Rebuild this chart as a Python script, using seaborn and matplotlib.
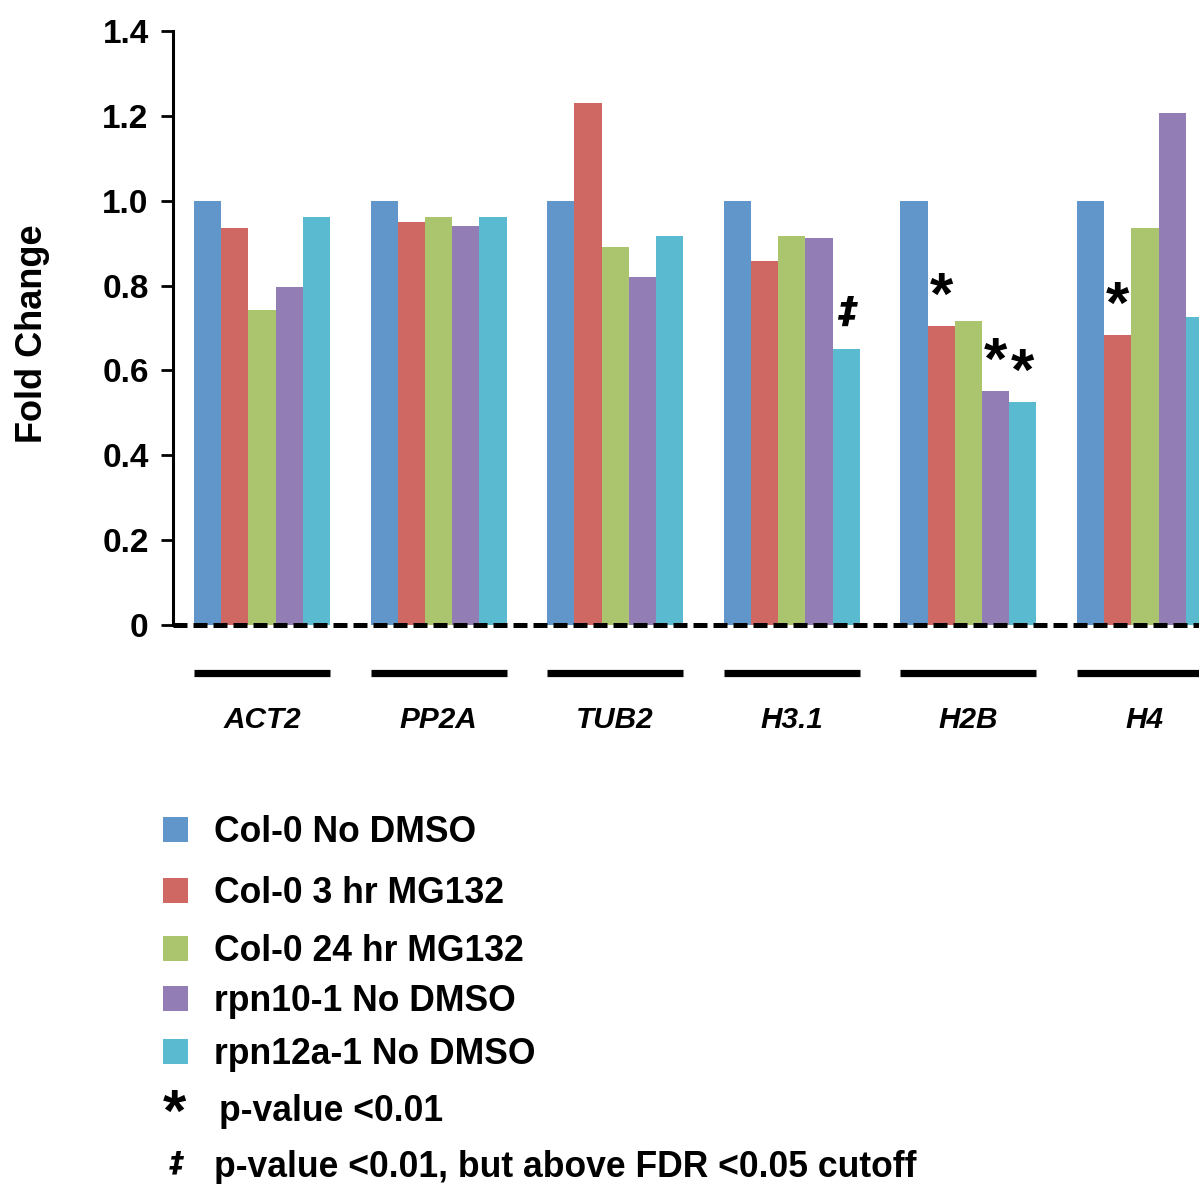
import numpy as np
import pandas as pd
import matplotlib
matplotlib.use("Agg")
import matplotlib.pyplot as plt
from matplotlib.patches import Rectangle
import seaborn as sns

# valeurs (fold change qRT-PCR)
genes = ["ACT2", "PP2A", "TUB2", "H3.1", "H2B", "H4"]
series = ["Col-0 No DMSO", "Col-0 3 hr MG132", "Col-0 24 hr MG132",
          "rpn10-1 No DMSO", "rpn12a-1 No DMSO"]
col0_no_dmso = [1.0, 1.0, 1.0, 1.0, 1.0, 1.0]
col0_3hr = [0.935, 0.950, 1.230, 0.858, 0.705, 0.683]
col0_24hr = [0.742, 0.962, 0.891, 0.917, 0.716, 0.935]
rpn10 = [0.797, 0.940, 0.820, 0.912, 0.551, 1.207]
rpn12a = [0.962, 0.962, 0.917, 0.650, 0.525, 0.726]
colors = ["#6196cb", "#cf6862", "#abc46e", "#937db5", "#5abad0"]

# marques de significativité : (gène, série, symbole)
marks = [("H3.1", "rpn12a-1 No DMSO", "\u2021"),
         ("H2B", "Col-0 3 hr MG132", "*"),
         ("H2B", "rpn10-1 No DMSO", "*"),
         ("H2B", "rpn12a-1 No DMSO", "*"),
         ("H4", "Col-0 3 hr MG132", "*")]
legend_notes = [("*", "p-value <0.01"),
                ("\u2021", "p-value <0.01, but above FDR <0.05 cutoff")]

values = [col0_no_dmso, col0_3hr, col0_24hr, rpn10, rpn12a]
df = pd.DataFrame([(g, s, v[i]) for s, v in zip(series, values)
                   for i, g in enumerate(genes)],
                  columns=["gene", "series", "fold"])

sns.set_style("white")
plt.rcParams["font.family"] = ["Liberation Sans", "DejaVu Sans"]
plt.rcParams["font.weight"] = "bold"
for key in ["text.color", "axes.labelcolor", "xtick.color", "ytick.color"]:
    plt.rcParams[key] = "black"

W, H = 1199, 1184
fig = plt.figure(figsize=(W / 100, H / 100), dpi=100)
ax = fig.add_axes([173 / W, 1 - 625 / H, 1 - 173 / W, (625 - 31) / H])

sns.barplot(data=df, x="gene", y="fold", hue="series", order=genes,
            hue_order=series, palette=colors, width=0.77, gap=0,
            saturation=1, linewidth=0, legend=False, ax=ax)

ax.set_xlim(-0.504, 5.306)
ax.set_ylim(0, 1.4)
ax.set_yticks(np.arange(0, 1.41, 0.2))
ax.set_yticklabels(["0"] + [f"{t:.1f}" for t in np.arange(0.2, 1.41, 0.2)])
for side in ["top", "right", "bottom"]:
    ax.spines[side].set_visible(False)
ax.spines["left"].set_linewidth(2.2)
ax.spines["left"].set_color("black")
ax.tick_params(axis="y", direction="out", length=8.5, width=2, pad=9,
               labelsize=24, left=True, colors="black")
ax.tick_params(axis="x", length=0, pad=58, labelsize=21.4, colors="black")
for lab in ax.get_xticklabels():
    lab.set_fontstyle("italic")
    lab.set_fontweight("bold")
ax.set_xlabel("")
ax.set_ylabel("Fold Change", fontsize=26, fontweight="bold")
ax.yaxis.set_label_coords(-0.12, 0.49)

# ligne pointillée à zéro
ax.axhline(0, color="black", lw=3.6, dashes=(2.8, 1.2), clip_on=False, zorder=5)

# barres noires sous chaque groupe
first, last = ax.containers[0], ax.containers[-1]
for i in range(len(genes)):
    x0 = first[i].get_x()
    x1 = last[i].get_x() + last[i].get_width()
    ax.hlines(-0.113, x0, x1, color="black", lw=5.2, clip_on=False,
              capstyle="butt")

# étoiles / double dague
for g, s, sym in marks:
    bar = ax.containers[series.index(s)][genes.index(g)]
    xc = bar.get_x() + bar.get_width() / 2
    if sym == "*":
        ax.annotate(sym, (xc, bar.get_height()), xytext=(0, 9),
                    textcoords="offset points", ha="center", va="baseline",
                    fontsize=43, fontweight="bold")
    else:
        ax.annotate(sym, (xc, bar.get_height()), xytext=(1, 19),
                    textcoords="offset points", ha="center", va="baseline",
                    fontsize=27, fontweight="bold", fontstyle="italic",
                    family="DejaVu Sans")

# légende manuelle
baselines = [842, 903, 961, 1011, 1064, 1121, 1177]
for k, (s, c) in enumerate(zip(series, colors)):
    yb = baselines[k]
    fig.add_artist(Rectangle((163 / W, 1 - yb / H), 25 / W, 25 / H,
                             transform=fig.transFigure, color=c, lw=0))
    fig.text(214 / W, 1 - yb / H, s, fontsize=25.6, fontweight="bold",
             va="baseline", ha="left")
for k, (sym, txt) in enumerate(legend_notes):
    yb = baselines[len(series) + k]
    if sym == "*":
        fig.text(174 / W, 1 - (yb + 10) / H, sym, fontsize=43,
                 fontweight="bold", ha="center", va="baseline")
        fig.text(219 / W, 1 - yb / H, txt, fontsize=25.6, fontweight="bold",
                 va="baseline", ha="left")
    else:
        fig.text(177 / W, 1 - (yb - 6) / H, sym, fontsize=20,
                 fontweight="bold", fontstyle="italic", family="DejaVu Sans",
                 ha="center", va="baseline")
        fig.text(214 / W, 1 - yb / H, txt, fontsize=25.6, fontweight="bold",
                 va="baseline", ha="left")

fig.savefig("out.png", dpi=100)
